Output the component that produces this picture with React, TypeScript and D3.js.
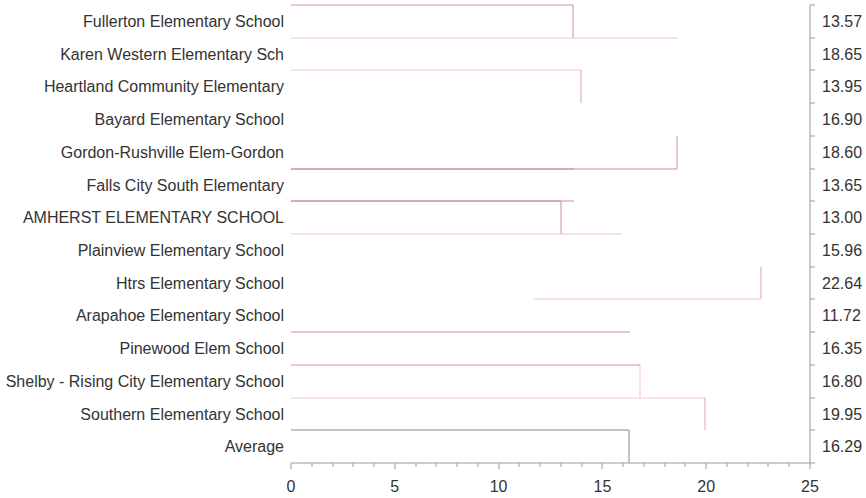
import React from "react";
import * as d3 from "d3";

const schools = [
  "Fullerton Elementary School",
  "Karen Western Elementary Sch",
  "Heartland Community Elementary",
  "Bayard Elementary School",
  "Gordon-Rushville Elem-Gordon",
  "Falls City South Elementary",
  "AMHERST ELEMENTARY SCHOOL",
  "Plainview Elementary School",
  "Htrs Elementary School",
  "Arapahoe Elementary School",
  "Pinewood Elem School",
  "Shelby - Rising City Elementary School",
  "Southern Elementary School",
  "Average",
];
const values = [13.57, 18.65, 13.95, 16.9, 18.6, 13.65, 13.0, 15.96, 22.64, 11.72, 16.35, 16.8, 19.95, 16.29];
const valueLabels = ["13.57", "18.65", "13.95", "16.90", "18.60", "13.65", "13.00", "15.96", "22.64", "11.72", "16.35", "16.80", "19.95", "16.29"];
const xTicks = [0, 5, 10, 15, 20, 25];

// visible outline edges per row (style only)
const DARK = "#cc9096";
const LIGHT = "#f0c6ca";
const MID = "#dba3a8";
const GRAY = "#8a8a8a";
type Edge = { top?: string; right?: string; bottom?: string; bottomFromNext?: boolean };
const edgeStyles: Edge[] = [
  { top: DARK, right: DARK },
  { top: LIGHT },
  { top: LIGHT, right: MID },
  {},
  { right: DARK, bottom: DARK },
  { top: DARK, bottom: DARK },
  { top: DARK, right: DARK },
  { top: LIGHT },
  { right: MID, bottom: LIGHT, bottomFromNext: true },
  {},
  { top: DARK },
  { top: DARK, right: LIGHT },
  { top: LIGHT, right: MID },
  { top: GRAY, right: GRAY },
];

const W = 866;
const H = 498;
const left = 291;
const right = 810;
const top = 5;
const bottom = 463;
const FONT = "'Liberation Sans', Arial, sans-serif";

export default function App() {
  const x = d3.scaleLinear().domain([0, 25]).range([left, right]);
  const y = d3.scaleBand<string>().domain(schools).range([top, bottom]).padding(0);
  const bw = y.bandwidth();
  const minor = d3.range(0, 26, 1);
  const axisColor = "#999";
  const textColor = "#333";

  const segs: React.ReactNode[] = [];
  schools.forEach((s, i) => {
    const e = edgeStyles[i];
    const y0 = Math.round(y(s)!);
    const y1 = Math.round(y(s)! + bw);
    const xv = Math.round(x(values[i]));
    if (e.top) segs.push(<line key={`t${i}`} x1={left} x2={xv} y1={y0} y2={y0} stroke={e.top} strokeWidth={1} />);
    if (e.right) segs.push(<line key={`r${i}`} x1={xv} x2={xv} y1={y0} y2={y1} stroke={e.right} strokeWidth={1} />);
    if (e.bottom) {
      const xs = e.bottomFromNext ? Math.round(x(values[i + 1])) : left;
      segs.push(<line key={`b${i}`} x1={xs} x2={xv} y1={y1} y2={y1} stroke={e.bottom} strokeWidth={1} />);
    }
  });

  const boundaries = d3.range(0, schools.length + 1).map((i) => top + i * bw);

  return (
    <svg width={W} height={H} style={{ position: "absolute", left: 0, top: 0, background: "#fff" }} fontFamily={FONT}>
      <rect x={0} y={0} width={W} height={H} fill="#fff" />
      {segs}
      {/* left category labels */}
      {schools.map((s) => (
        <text key={s} x={284} y={y(s)! + bw / 2} dy="0.35em" textAnchor="end" fontSize={16} fill={textColor}>
          {s}
        </text>
      ))}
      {/* right axis */}
      <line x1={right} x2={right} y1={top} y2={bottom} stroke={axisColor} />
      {boundaries.map((b, i) => (
        <line key={`rt${i}`} x1={right} x2={right + 5} y1={Math.round(b)} y2={Math.round(b)} stroke={axisColor} />
      ))}
      {schools.map((s, i) => (
        <text key={`v${s}`} x={822} y={y(s)! + bw / 2} dy="0.35em" fontSize={16} fill={textColor}>
          {valueLabels[i]}
        </text>
      ))}
      {/* bottom axis */}
      <line x1={left} x2={right} y1={bottom} y2={bottom} stroke={axisColor} />
      {minor.map((t) => (
        <line key={`m${t}`} x1={Math.round(x(t))} x2={Math.round(x(t))} y1={bottom} y2={bottom + (t % 5 === 0 ? 6 : 4)} stroke={axisColor} />
      ))}
      {xTicks.map((t) => (
        <text key={`xt${t}`} x={x(t)} y={492} textAnchor="middle" fontSize={16} fill={textColor}>
          {t}
        </text>
      ))}
    </svg>
  );
}
